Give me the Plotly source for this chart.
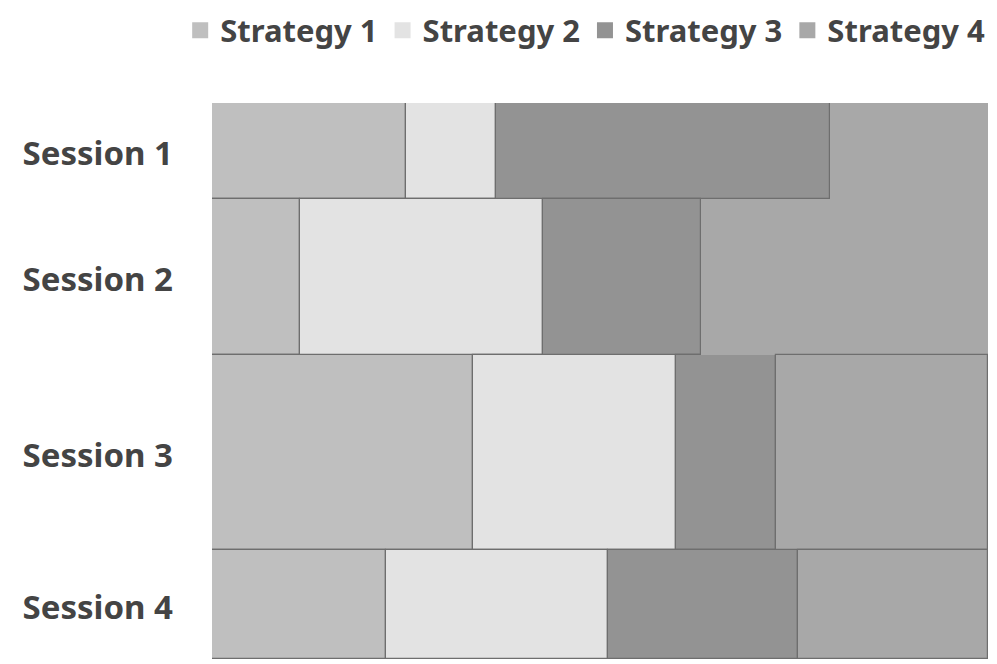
import plotly.graph_objects as go

sessions = ["Session 1", "Session 2", "Session 3", "Session 4"]
strategies = ["Strategy 1", "Strategy 2", "Strategy 3", "Strategy 4"]
# values per session, one list per strategy
strategy_1 = [43, 32, 118, 44]
strategy_2 = [20, 88, 92, 56]
strategy_3 = [74, 57, 45, 48]
strategy_4 = [35, 104, 96, 48]

series = [strategy_1, strategy_2, strategy_3, strategy_4]
colors = ["#bfbfbf", "#e3e3e3", "#939393", "#a8a8a8"]
border = "#6e6e6e"

row_tot = [sum(s[i] for s in series) for i in range(len(sessions))]
grand = sum(row_tot)
heights = [t / grand for t in row_tot]
centers = []
acc = 0
for h in heights:
    centers.append(acc + h / 2)
    acc += h

fig = go.Figure()
cum = [0.0] * len(sessions)
for j, s in enumerate(series):
    share = [s[i] / row_tot[i] for i in range(len(sessions))]
    lw = [1.2] * len(sessions)
    if j == 3:
        lw = [0, 0, 1.2, 1.2]
    fig.add_trace(go.Bar(
        orientation="h",
        y=centers,
        x=share,
        base=list(cum),
        width=heights,
        marker=dict(color=colors[j], line=dict(color=border, width=lw)),
        showlegend=False,
        name=strategies[j],
    ))
    cum = [cum[i] + share[i] for i in range(len(sessions))]

for j, name in enumerate(strategies):
    fig.add_trace(go.Scatter(
        x=[None], y=[None], mode="markers", name=name,
        marker=dict(symbol="square", size=16, color=colors[j], line=dict(width=0)),
    ))

fig.update_layout(
    width=997, height=664,
    margin=dict(l=212, r=9, t=102, b=5),
    paper_bgcolor="white", plot_bgcolor="white",
    barmode="overlay", bargap=0,
    font=dict(family="Noto Sans", color="#444444"),
    legend=dict(
        orientation="h",
        x=-0.041, xanchor="left", y=1.128, yanchor="middle",
        font=dict(size=31, family="Noto Sans", color="#444444", weight="bold"),
        itemsizing="trace", tracegroupgap=0, itemwidth=30,
        traceorder="normal",
    ),
    xaxis=dict(range=[0, 1], visible=False, showgrid=False, zeroline=False),
    yaxis=dict(
        range=[1, 0], showgrid=False, zeroline=False, showline=False,
        tickvals=centers, ticktext=sessions, ticks="",
        tickfont=dict(size=33, family="Noto Sans", color="#444444", weight="bold"),
        ticklabelstandoff=38, ticklabelshift=-3,
    ),
)

fig.write_html("out.html", config={"displayModeBar": False},
               post_script="document.body.style.margin='0';")
